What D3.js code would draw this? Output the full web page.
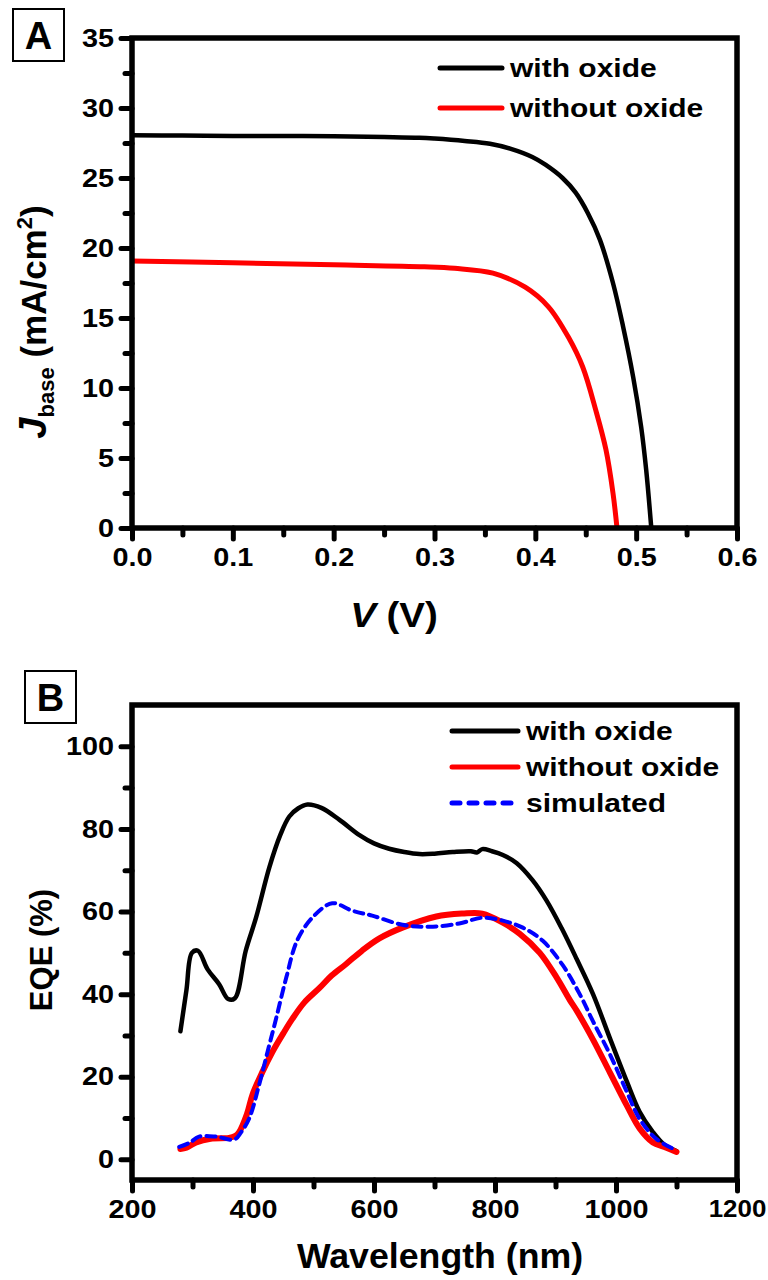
<!DOCTYPE html>
<html>
<head>
<meta charset="utf-8">
<script src="https://cdn.jsdelivr.net/npm/d3@7"></script>
<style>
  body { margin: 0; background: #fff; }
  svg text { font-family: "Liberation Sans", Arial, sans-serif; font-weight: bold; }
</style>
</head>
<body>
<svg id="svg1" width="768" height="1280"></svg>
<script>
// Panel A: J-V curves
let jvWith = [
  [0, 28.05], [0.05, 28.03], [0.1, 28.0], [0.15, 28.0], [0.2, 27.98], [0.25, 27.93],
  [0.285, 27.88], [0.3, 27.82], [0.33, 27.65], [0.355, 27.45], [0.375, 27.1],
  [0.397, 26.5], [0.41, 25.95], [0.427, 25.0], [0.44, 23.95], [0.452, 22.5],
  [0.464, 20.6], [0.477, 17.5], [0.487, 14.4], [0.497, 10.8], [0.505, 7.2],
  [0.510, 4.1], [0.515, 0]
]
let jvWithout = [
  [0, 19.08], [0.1, 18.95], [0.2, 18.8], [0.29, 18.66], [0.32, 18.55], [0.358, 18.2],
  [0.39, 17.2], [0.413, 15.8], [0.433, 13.6], [0.447, 11.5], [0.46, 8.4],
  [0.47, 5.6], [0.477, 2.5], [0.481, 0]
]
let vTicks = [0, 0.1, 0.2, 0.3, 0.4, 0.5, 0.6]
let jTicks = [0, 5, 10, 15, 20, 25, 30, 35]

// Panel B: EQE spectra
let eqeWith = [
  [280, 31], [290, 41], [299, 50], [309, 50.5], [325, 46], [344, 42.4], [359, 38.8],
  [370, 39], [388, 50.5], [405, 58.5], [427, 70.7], [445, 78.5], [460, 83], [475, 85],
  [490, 85.9], [513, 85.1], [543, 82.2], [576, 78.5], [600, 76.5], [625, 75.2],
  [650, 74.4], [675, 73.9], [700, 74], [730, 74.4], [760, 74.6], [770, 74.3],
  [779, 75.1], [795, 74.6], [813, 73.7], [836, 71.7], [862, 67.6], [885, 62.7],
  [910, 56], [935, 48.5], [962, 40], [990, 29.3], [1018, 18.8], [1039, 11.5],
  [1061, 6.6], [1080, 3.5], [1100, 2]
]
let eqeWithout = [
  [280, 2.5], [290, 2.8], [306, 4.1], [330, 5], [360, 5.2], [370, 5.6], [377, 6.6],
  [390, 11], [399, 15.6], [415, 21], [432, 26], [450, 30.5], [465, 34], [485, 38],
  [510, 41.5], [530, 44.5], [554, 47.3], [580, 50.5], [609, 53.5], [647, 56.1],
  [703, 58.8], [746, 59.5], [779, 59.5], [813, 57.3], [841, 54.6], [874, 50],
  [902, 44], [924, 38.5], [935, 36], [962, 29], [990, 21], [1018, 13], [1039, 7.5],
  [1061, 4.1], [1080, 3], [1100, 1.8]
]
let eqeSim = [
  [278, 3], [295, 4], [311, 5.5], [339, 5.5], [369, 4.8], [380, 6.5], [394, 10],
  [410, 18], [424, 26], [438, 34], [455, 44], [473, 53], [498, 58.5], [531, 62],
  [564, 60.2], [597, 59], [647, 56.8], [692, 56.3], [741, 57.1], [779, 58.5],
  [813, 57.8], [846, 56.1], [879, 52.9], [912, 47], [940, 40], [962, 33.4],
  [990, 25.4], [1018, 16.3], [1039, 9.8], [1067, 4.9], [1100, 2.2]
]
let wlTicks = [200, 400, 600, 800, 1000, 1200]
let eqeTicks = [0, 20, 40, 60, 80, 100]

let svg = d3.select('#svg1')

// text in the reference is a bit wider than plain Arial
let stretch = 1.13

// helper to draw axes with major + minor ticks
function drawFrame(g, x, y, xMajor, xMinor, yMajor, yMinor, xFmt) {
  let [x0, x1] = x.range()
  let [y0, y1] = y.range()

  // minor ticks
  g.append('g')
    .attr('transform', `translate(0, ${y0})`)
    .call(d3.axisBottom(x).tickValues(xMinor).tickSize(7).tickFormat(''))
  g.append('g')
    .attr('transform', `translate(${x0}, 0)`)
    .call(d3.axisLeft(y).tickValues(yMinor).tickSize(7).tickFormat(''))

  // major ticks
  g.append('g')
    .attr('class', 'xmajor')
    .attr('transform', `translate(0, ${y0})`)
    .call(d3.axisBottom(x).tickValues(xMajor).tickSize(11).tickPadding(9).tickFormat(xFmt))
  g.append('g')
    .attr('transform', `translate(${x0}, 0)`)
    .call(d3.axisLeft(y).tickValues(yMajor).tickSize(11).tickPadding(7))

  g.selectAll('.domain').remove()
  g.selectAll('.tick line')
    .style('stroke', 'black')
    .style('stroke-width', 5)
    .style('stroke-linecap', 'round')
  g.selectAll('.tick text')
    .style('font-size', '25.5px')
    .style('font-family', '"Liberation Sans", Arial, sans-serif')
    .style('font-weight', 'bold')
    .attr('fill', 'black')
    .attr('x', function() { return (+d3.select(this).attr('x') || 0) / stretch })
    .attr('transform', `scale(${stretch}, 1)`)

  // box
  g.append('rect')
    .attr('x', x0)
    .attr('y', y1)
    .attr('width', x1 - x0)
    .attr('height', y0 - y1)
    .style('fill', 'none')
    .style('stroke', 'black')
    .style('stroke-width', 5.5)
}

function wideText(g, x, y, size, sx) {
  return g.append('text')
    .attr('transform', `translate(${x}, ${y}) scale(${sx}, 1)`)
    .style('font-size', size + 'px')
}

function drawLegend(g, items, lx, ly, dy, len) {
  let leg = g.append('g')
  items.forEach((d, i) => {
    leg.append('line')
      .attr('x1', lx)
      .attr('x2', lx + len)
      .attr('y1', ly + i * dy)
      .attr('y2', ly + i * dy)
      .style('stroke', d.color)
      .style('stroke-width', d.width)
      .style('stroke-dasharray', d.dash || null)
      .style('stroke-linecap', 'round')
    wideText(leg, lx + len + 8, ly + i * dy, 25, 1.2)
      .attr('dy', '0.36em')
      .text(d.label)
  })
}

function panelLabel(g, letter, x, y) {
  g.append('rect')
    .attr('x', x).attr('y', y).attr('width', 51).attr('height', 52)
    .style('fill', 'white').style('stroke', 'black').style('stroke-width', 2)
  g.append('text')
    .attr('x', x + 25.5).attr('y', y + 40)
    .attr('text-anchor', 'middle')
    .style('font-size', '38px')
    .text(letter)
}

// ---------- Panel A ----------
let xA = d3.scaleLinear().domain([0, 0.6]).range([132, 737])
let yA = d3.scaleLinear().domain([0, 35]).range([528, 38])
let gA = svg.append('g').attr('id', 'panelA')

let lineA = d3.line().x(d => xA(d[0])).y(d => yA(d[1])).curve(d3.curveCatmullRom.alpha(0.5))

gA.append('g')
  .selectAll('path')
  .data([{ d: jvWith, c: 'black', w: 4.5 }, { d: jvWithout, c: 'red', w: 5 }])
  .join('path')
  .attr('d', d => lineA(d.d))
  .style('fill', 'none')
  .style('stroke', d => d.c)
  .style('stroke-width', d => d.w)

drawFrame(gA, xA, yA, vTicks, d3.range(0.05, 0.6, 0.1), jTicks, d3.range(2.5, 35, 5), d3.format('.1f'))

drawLegend(gA, [
  { label: 'with oxide', color: 'black', width: 5 },
  { label: 'without oxide', color: 'red', width: 5 }
], 440, 68, 40, 62)

panelLabel(gA, 'A', 13, 9)

wideText(gA, 394, 627, 35, 1.1)
  .attr('text-anchor', 'middle')
  .call(t => {
    t.append('tspan').style('font-style', 'italic').text('V')
    t.append('tspan').text(' (V)')
  })

gA.append('text')
  .attr('transform', 'translate(46, 322) rotate(-90)')
  .attr('text-anchor', 'middle')
  .style('font-size', '35px')
  .call(t => {
    t.append('tspan').style('font-style', 'italic').style('font-size', '38px').text('J')
    t.append('tspan').style('font-size', '22px').attr('dy', 8).text('base')
    t.append('tspan').attr('dy', -8).text(' (mA/cm')
    t.append('tspan').style('font-size', '22px').attr('dy', -14).text('2')
    t.append('tspan').attr('dy', 14).text(')')
  })

// ---------- Panel B ----------
let xB = d3.scaleLinear().domain([200, 1200]).range([132, 737])
let yB = d3.scaleLinear().domain([-5, 110]).range([1180, 705])
let gB = svg.append('g').attr('id', 'panelB')

let lineB = d3.line().x(d => xB(d[0])).y(d => yB(d[1])).curve(d3.curveCatmullRom.alpha(0.5))

gB.append('g')
  .selectAll('path')
  .data([
    { d: eqeWith, c: 'black', w: 4.5 },
    { d: eqeWithout, c: 'red', w: 6 },
    { d: eqeSim, c: 'blue', w: 4, dash: '9,6' }
  ])
  .join('path')
  .attr('d', d => lineB(d.d))
  .style('fill', 'none')
  .style('stroke', d => d.c)
  .style('stroke-width', d => d.w)
  .style('stroke-dasharray', d => d.dash || null)
  .style('stroke-linecap', 'round')
  .style('stroke-linejoin', 'round')

drawFrame(gB, xB, yB, wlTicks, d3.range(300, 1200, 200), eqeTicks, d3.range(10, 110, 20), d3.format('d'))

// last label sits at the page edge: keep it inside
gB.selectAll('.xmajor .tick text')
  .filter(d => d === 1200)
  .style('font-size', '24px')
  .attr('transform', 'scale(1.08, 1)')

drawLegend(gB, [
  { label: 'with oxide', color: 'black', width: 5 },
  { label: 'without oxide', color: 'red', width: 5 },
  { label: 'simulated', color: 'blue', width: 5, dash: '8,9' }
], 452, 731, 36, 66)

panelLabel(gB, 'B', 25, 671)

wideText(gB, 440, 1268, 35, 1.02)
  .attr('text-anchor', 'middle')
  .text('Wavelength (nm)')

gB.append('text')
  .attr('transform', 'translate(52, 950) rotate(-90)')
  .attr('text-anchor', 'middle')
  .style('font-size', '31px')
  .text('EQE (%)')
</script>
</body>
</html>
